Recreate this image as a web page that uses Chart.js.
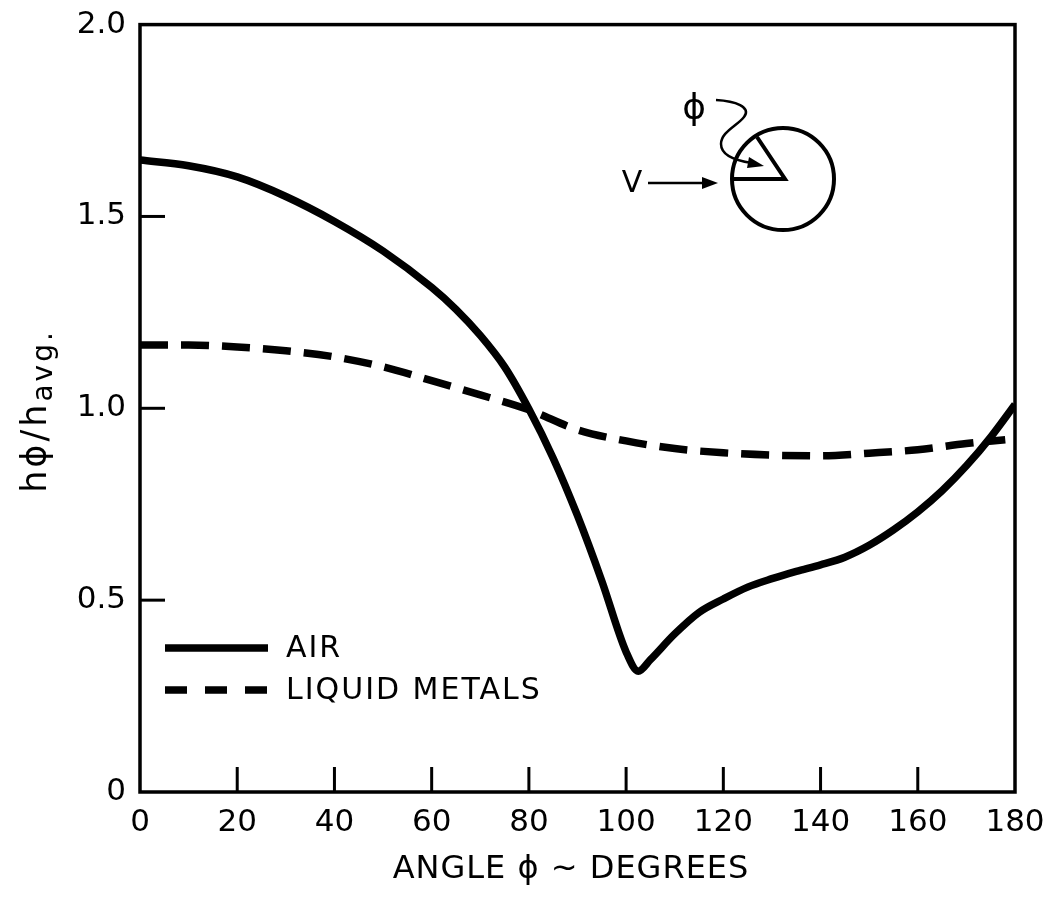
<!DOCTYPE html>
<html>
<head>
<meta charset="utf-8">
<script src="https://cdn.jsdelivr.net/npm/chart.js@4.4.1/dist/chart.umd.min.js"></script>
<style>
  body { margin: 0; background: #fff; }
  #wrap { width: 1054px; height: 900px; }
</style>
</head>
<body>
<div id="wrap"><canvas id="chart" width="1054" height="900"></canvas></div>
<script>
// values
const airAngles = [0, 10, 20, 30, 40, 50, 60, 65, 70, 75, 80, 85, 90, 95, 100, 102.5, 105, 110, 115, 120, 125, 130, 135, 140, 145, 150, 155, 160, 165, 170, 175, 180];
const airValues = [1.647, 1.632, 1.603, 1.552, 1.487, 1.410, 1.315, 1.258, 1.190, 1.108, 0.998, 0.870, 0.720, 0.550, 0.365, 0.315, 0.345, 0.412, 0.468, 0.503, 0.534, 0.556, 0.575, 0.592, 0.612, 0.643, 0.683, 0.730, 0.785, 0.850, 0.925, 1.010];

const metalAngles = [0, 10, 20, 30, 40, 50, 60, 70, 80, 90, 100, 110, 120, 130, 140, 150, 160, 170, 178];
const metalValues = [1.165, 1.165, 1.160, 1.150, 1.134, 1.108, 1.072, 1.035, 0.996, 0.944, 0.915, 0.895, 0.884, 0.878, 0.876, 0.883, 0.892, 0.908, 0.918];

const xTicks = [0, 20, 40, 60, 80, 100, 120, 140, 160, 180];
const yTicks = [0, 0.5, 1.0, 1.5, 2.0];
const seriesNames = ['AIR', 'LIQUID METALS'];

const FONT = '"DejaVu Sans", sans-serif';

function toPoints(xs, ys) {
    return xs.map((x, i) => ({ x: x, y: ys[i] }));
}

// frame, inward tick marks, legend, titles and the little cylinder sketch
const decorations = {
    id: 'decorations',
    afterDraw(chart) {
        const ctx = chart.ctx;
        const area = chart.chartArea;
        const xs = chart.scales.x;
        const ys = chart.scales.y;
        ctx.save();
        ctx.strokeStyle = '#000';
        ctx.fillStyle = '#000';
        ctx.lineCap = 'butt';

        // frame
        ctx.lineWidth = 3.5;
        ctx.strokeRect(area.left, area.top, area.right - area.left, area.bottom - area.top);

        // inner ticks
        ctx.lineWidth = 3;
        xTicks.slice(1, -1).forEach(v => {
            const px = xs.getPixelForValue(v);
            ctx.beginPath();
            ctx.moveTo(px, area.bottom);
            ctx.lineTo(px, area.bottom - 25);
            ctx.stroke();
        });
        yTicks.slice(1, -1).forEach(v => {
            const py = ys.getPixelForValue(v);
            ctx.beginPath();
            ctx.moveTo(area.left, py);
            ctx.lineTo(area.left + 25, py);
            ctx.stroke();
        });

        // legend
        chart.data.datasets.forEach((ds, i) => {
            const y = 648 + i * 42;
            ctx.save();
            ctx.lineWidth = ds.borderWidth;
            ctx.setLineDash(ds.borderDash ? [22, 18] : []);
            ctx.beginPath();
            ctx.moveTo(165, y);
            ctx.lineTo(268, y);
            ctx.stroke();
            ctx.restore();
            ctx.save();
            ctx.font = '30px ' + FONT;
            ctx.letterSpacing = '2px';
            ctx.textAlign = 'left';
            ctx.textBaseline = 'middle';
            ctx.fillText(ds.label, 286, y + 1);
            ctx.restore();
        });

        // x title
        ctx.save();
        ctx.font = '32px ' + FONT;
        ctx.letterSpacing = '1px';
        ctx.textAlign = 'center';
        ctx.textBaseline = 'middle';
        ctx.fillText('ANGLE \u03D5 ~ DEGREES', 571, 870);
        ctx.restore();

        // y title with subscript
        ctx.save();
        ctx.translate(46, 411);
        ctx.rotate(-Math.PI / 2);
        ctx.letterSpacing = '3px';
        ctx.textAlign = 'left';
        ctx.textBaseline = 'alphabetic';
        ctx.font = '35px ' + FONT;
        const main = 'h\u03D5/h';
        const w1 = ctx.measureText(main).width;
        ctx.font = '28px ' + FONT;
        const sub = 'avg.';
        const w2 = ctx.measureText(sub).width;
        const start = -(w1 + w2) / 2;
        ctx.font = '35px ' + FONT;
        ctx.fillText(main, start, 0);
        ctx.font = '28px ' + FONT;
        ctx.fillText(sub, start + w1, 6);
        ctx.restore();

        // cylinder sketch
        ctx.lineWidth = 4;
        ctx.beginPath();
        ctx.arc(783, 179, 51, 0, Math.PI * 2);
        ctx.stroke();
        ctx.lineJoin = 'miter';
        ctx.beginPath();
        ctx.moveTo(757, 137);
        ctx.lineTo(785, 179);
        ctx.lineTo(733, 179);
        ctx.stroke();

        ctx.font = '30px ' + FONT;
        ctx.textAlign = 'center';
        ctx.textBaseline = 'middle';
        ctx.fillText('V', 632, 184);
        ctx.font = '36px ' + FONT;
        ctx.fillText('\u03D5', 694, 110);

        ctx.lineWidth = 2.5;
        ctx.beginPath();
        ctx.moveTo(648, 183);
        ctx.lineTo(706, 183);
        ctx.stroke();
        ctx.beginPath();
        ctx.moveTo(718, 183);
        ctx.lineTo(702, 177);
        ctx.lineTo(702, 189);
        ctx.closePath();
        ctx.fill();

        ctx.beginPath();
        ctx.moveTo(716, 100);
        ctx.bezierCurveTo(735, 101, 752, 107, 744, 117);
        ctx.bezierCurveTo(737, 126, 721, 132, 721, 144);
        ctx.bezierCurveTo(721, 156, 738, 161, 752, 163);
        ctx.stroke();
        ctx.beginPath();
        ctx.moveTo(764, 166);
        ctx.lineTo(749, 157);
        ctx.lineTo(747, 168);
        ctx.closePath();
        ctx.fill();

        ctx.restore();
    }
};

const ctx = document.getElementById('chart').getContext('2d');
const chart = new Chart(ctx, {
    type: 'line',
    data: {
        datasets: [{
            label: seriesNames[0],
            data: toPoints(airAngles, airValues),
            borderColor: '#000',
            borderWidth: 7.5,
            pointRadius: 0,
            cubicInterpolationMode: 'monotone',
            fill: false
        }, {
            label: seriesNames[1],
            data: toPoints(metalAngles, metalValues),
            borderColor: '#000',
            borderWidth: 7.5,
            borderDash: [28, 13],
            pointRadius: 0,
            cubicInterpolationMode: 'monotone',
            fill: false
        }]
    },
    options: {
        responsive: false,
        animation: false,
        events: [],
        layout: { padding: { left: 0, top: 15, right: 39, bottom: 0 } },
        plugins: {
            legend: { display: false },
            tooltip: { enabled: false }
        },
        scales: {
            x: {
                type: 'linear',
                min: 0,
                max: 180,
                afterBuildTicks: s => { s.ticks = xTicks.map(v => ({ value: v })); },
                afterFit: s => { s.height = 108; },
                grid: { display: false },
                border: { display: false },
                ticks: {
                    color: '#000',
                    font: { family: FONT, size: 31 },
                    padding: 4,
                    maxRotation: 0,
                    autoSkip: false
                }
            },
            y: {
                min: 0,
                max: 2,
                afterBuildTicks: s => { s.ticks = yTicks.map(v => ({ value: v })); },
                afterFit: s => { s.width = 140; },
                grid: { display: false },
                border: { display: false },
                ticks: {
                    color: '#000',
                    font: { family: FONT, size: 31 },
                    padding: 6,
                    callback: v => (v === 0 ? '0' : v.toFixed(1))
                }
            }
        }
    },
    plugins: [decorations]
});
</script>
</body>
</html>
